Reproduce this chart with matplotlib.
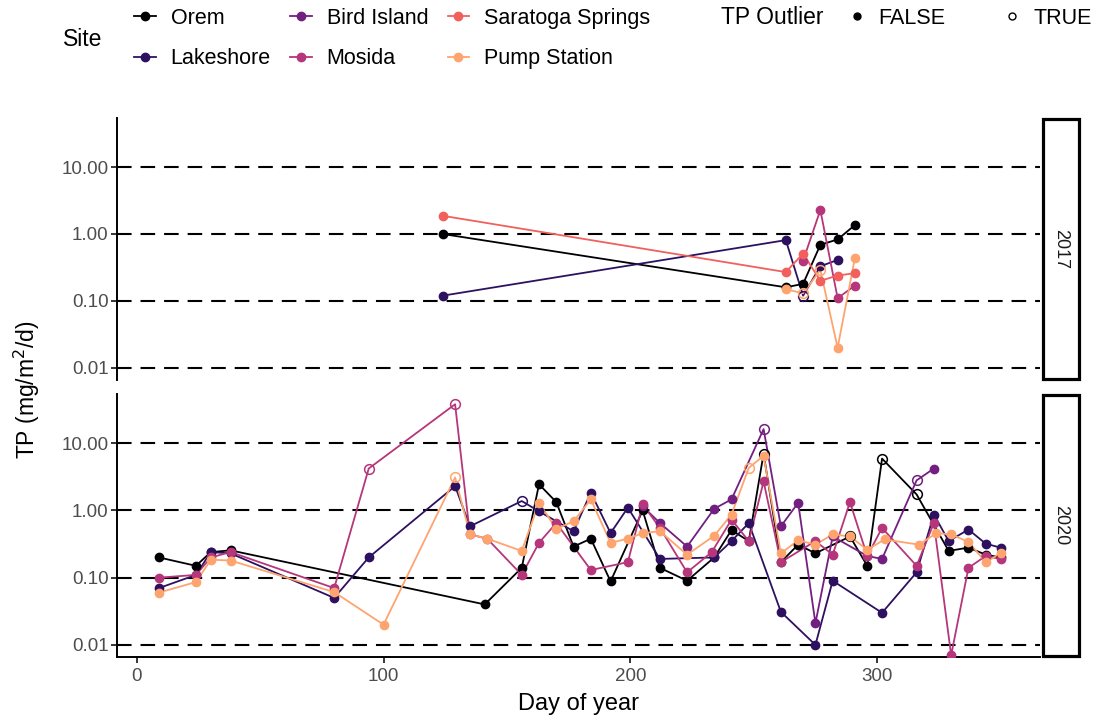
import numpy as np
import matplotlib
matplotlib.use("Agg")
import matplotlib.pyplot as plt
from matplotlib.lines import Line2D
from matplotlib.patches import Rectangle
from matplotlib.ticker import FixedLocator, FixedFormatter

plt.rcParams['font.family'] = ['Liberation Sans', 'DejaVu Sans']

sites = ["Orem", "Lakeshore", "Bird Island", "Mosida", "Saratoga Springs", "Pump Station"]
site_colors = ["#000004", "#2d1160", "#721f81", "#b5367a", "#f1605d", "#fea46f"]
years = ["2017", "2020"]

# ---- 2017 samples (day of year, TP mg/m2/d, outlier days) ----
orem_17_day = [124, 263, 270, 277, 284, 291]
orem_17_tp = [1.00, 0.16, 0.18, 0.69, 0.83, 1.36]
orem_17_out = []

lake_17_day = [124, 263, 270, 277, 284]
lake_17_tp = [0.12, 0.81, 0.12, 0.33, 0.41]
lake_17_out = [270]

mosida_17_day = [270, 277, 284, 291]
mosida_17_tp = [0.40, 2.28, 0.11, 0.17]
mosida_17_out = []

sara_17_day = [124, 263, 270, 277, 284, 291]
sara_17_tp = [1.87, 0.27, 0.51, 0.20, 0.24, 0.26]
sara_17_out = []

pump_17_day = [263, 270, 277, 284, 291]
pump_17_tp = [0.15, 0.13, 0.29, 0.02, 0.44]
pump_17_out = [270, 277]

# ---- 2020 samples ----
orem_20_day = [9, 24, 30, 38, 141, 156, 163, 170, 177, 184, 192, 205, 212, 223, 234,
               241, 248, 254, 261, 268, 275, 289, 296, 302, 316, 329, 337, 344, 350]
orem_20_tp = [0.20, 0.15, 0.24, 0.255, 0.04, 0.14, 2.45, 1.33, 0.29, 0.38, 0.088, 1.0, 0.14,
              0.09, 0.20, 0.51, 0.35, 7.0, 0.17, 0.31, 0.23, 0.41, 0.15, 5.9, 1.73, 0.25,
              0.28, 0.22, 0.20]
orem_20_out = [254, 289, 302, 316]

lake_20_day = [9, 24, 30, 38, 80, 94, 129, 135, 156, 163, 177, 184, 192, 199, 212, 234,
               241, 248, 261, 275, 282, 302, 316, 323, 329, 337, 344, 350]
lake_20_tp = [0.07, 0.11, 0.24, 0.23, 0.05, 0.20, 2.3, 0.58, 1.38, 0.97, 0.49, 1.84, 0.46,
              1.1, 0.19, 0.20, 0.35, 0.65, 0.031, 0.010, 0.09, 0.03, 0.12, 0.87, 0.35,
              0.52, 0.32, 0.28]
lake_20_out = [156]

bird_20_day = [205, 212, 223, 234, 241, 254, 261, 268, 275, 282, 296, 302, 316, 323]
bird_20_tp = [1.15, 0.65, 0.29, 1.06, 1.46, 16.2, 0.58, 1.3, 0.021, 0.41, 0.21, 0.19, 2.8, 4.2]
bird_20_out = [254, 316]

mosida_20_day = [9, 24, 30, 38, 80, 94, 129, 135, 142, 156, 163, 170, 184, 199, 205, 212,
                 223, 233, 241, 248, 254, 261, 275, 282, 289, 296, 302, 316, 323, 330,
                 337, 344, 350]
mosida_20_tp = [0.10, 0.11, 0.20, 0.24, 0.07, 4.2, 38, 0.44, 0.38, 0.11, 0.33, 0.65, 0.13,
                0.17, 1.23, 0.55, 0.12, 0.24, 0.73, 0.35, 2.7, 0.17, 0.35, 0.22, 1.33, 0.21,
                0.55, 0.15, 0.65, 0.007, 0.14, 0.21, 0.19]
mosida_20_out = [94, 129]

pump_20_day = [9, 24, 30, 38, 80, 100, 129, 135, 142, 156, 163, 170, 177, 184, 192, 199,
               205, 212, 223, 234, 241, 248, 254, 261, 268, 275, 282, 289, 296, 303, 317,
               324, 330, 337, 344, 350]
pump_20_tp = [0.06, 0.086, 0.185, 0.18, 0.061, 0.02, 3.1, 0.44, 0.38, 0.25, 1.3, 0.53,
              0.69, 1.46, 0.33, 0.38, 0.46, 0.49, 0.22, 0.42, 0.87, 4.3, 6.5, 0.23, 0.36,
              0.31, 0.44, 0.41, 0.26, 0.37, 0.31, 0.46, 0.44, 0.34, 0.17, 0.23]
pump_20_out = [129, 248]

series = {
    "2017": [("Orem", orem_17_day, orem_17_tp, orem_17_out),
             ("Lakeshore", lake_17_day, lake_17_tp, lake_17_out),
             ("Mosida", mosida_17_day, mosida_17_tp, mosida_17_out),
             ("Saratoga Springs", sara_17_day, sara_17_tp, sara_17_out),
             ("Pump Station", pump_17_day, pump_17_tp, pump_17_out)],
    "2020": [("Orem", orem_20_day, orem_20_tp, orem_20_out),
             ("Lakeshore", lake_20_day, lake_20_tp, lake_20_out),
             ("Bird Island", bird_20_day, bird_20_tp, bird_20_out),
             ("Mosida", mosida_20_day, mosida_20_tp, mosida_20_out),
             ("Pump Station", pump_20_day, pump_20_tp, pump_20_out)],
}

y_ticks = [0.01, 0.1, 1, 10]
y_labels = ["0.01", "0.10", "1.00", "10.00"]
x_ticks = [0, 100, 200, 300]

colors = dict(zip(sites, site_colors))

W, H = 1098, 723
fig = plt.figure(figsize=(W / 100, H / 100), dpi=100)

def fbox(x0, y0, x1, y1):
    # pixel box (top-left origin) -> figure fraction rect
    return [x0 / W, 1 - y1 / H, (x1 - x0) / W, (y1 - y0) / H]

panels = {"2017": (118, 380), "2020": (394, 657)}
axes = {}
for yr in years:
    top, bot = panels[yr]
    ax = fig.add_axes(fbox(117, top, 1040, bot))
    axes[yr] = ax
    ax.set_yscale("log")
    ax.set_ylim(10 ** -2.18, 10 ** 1.732)
    ax.set_xlim(-8, 366)
    for v in y_ticks:
        ax.axhline(v, color="black", lw=1.5, ls=(0, (7, 4.3)), zorder=0)
    ax.yaxis.set_major_locator(FixedLocator(y_ticks))
    ax.yaxis.set_major_formatter(FixedFormatter(y_labels))
    ax.yaxis.set_minor_locator(FixedLocator([]))
    ax.tick_params(axis="both", direction="out", length=4, width=1.1, colors="black",
                   labelcolor="#4d4d4d", labelsize=13.5, pad=2)
    ax.tick_params(axis="x", pad=4)
    ax.xaxis.set_major_locator(FixedLocator(x_ticks))
    for s in ["top", "right"]:
        ax.spines[s].set_visible(False)
    ax.spines["left"].set_linewidth(1.4)
    ax.spines["bottom"].set_linewidth(1.4)

    for name, day, tp, out in series[yr]:
        c = colors[name]
        day = np.array(day)
        tp = np.array(tp)
        flag = np.isin(day, out)
        ax.plot(day, tp, color=c, lw=1.3, zorder=2)
        ax.plot(day[~flag], tp[~flag], "o", color=c, ms=6, zorder=3)
        ax.plot(day[flag], tp[flag], "o", mfc="none", mec=c, mew=1.1, ms=7, zorder=3)

    # facet strip on the right
    fig.patches.append(Rectangle((1043 / W, 1 - (bot - 1) / H), 36 / W, (bot - top - 2) / H,
                                 transform=fig.transFigure, fc="white", ec="black", lw=2.3))
    fig.text(1061 / W, 1 - (top + bot) / 2 / H, yr, rotation=-90, ha="center", va="center",
             fontsize=13, color="#1a1a1a")

axes["2017"].spines["bottom"].set_visible(False)
axes["2017"].tick_params(axis="x", bottom=False, labelbottom=False)
axes["2020"].set_xlabel("Day of year", fontsize=17, labelpad=6)

fig.text(27 / W, 1 - 390 / H, "TP (mg/m$^2$/d)", rotation=90, ha="center", va="center",
         fontsize=16.5)

# site legend
site_handles = [Line2D([], [], color=colors[s], marker="o", ms=6, lw=1.3) for s in sites]
fig.text(63 / W, 1 - 40 / H, "Site", fontsize=16.5, va="center", ha="left")
fig.legend(site_handles, sites, ncol=3, loc="upper left", bbox_to_anchor=(134 / W, 1 - 8 / H),
           frameon=False, fontsize=15.5, handlelength=1.0, handletextpad=0.7,
           columnspacing=0.9, labelspacing=0.9, borderaxespad=0, borderpad=0)

# outlier legend
fig.text(721 / W, 1 - 18 / H, "TP Outlier", fontsize=16.5, va="center", ha="left")
out_handles = [Line2D([], [], ls="", marker="o", color="black", ms=5),
               Line2D([], [], ls="", marker="o", mfc="none", mec="black", ms=5, mew=1)]
fig.legend(out_handles, ["FALSE", "TRUE"], ncol=2, loc="upper left",
           bbox_to_anchor=(846 / W, 1 - 8 / H), frameon=False, fontsize=15.5,
           handlelength=1.0, handletextpad=0.5, columnspacing=2.6, borderaxespad=0,
           borderpad=0)

fig.savefig("out.png", dpi=100)
